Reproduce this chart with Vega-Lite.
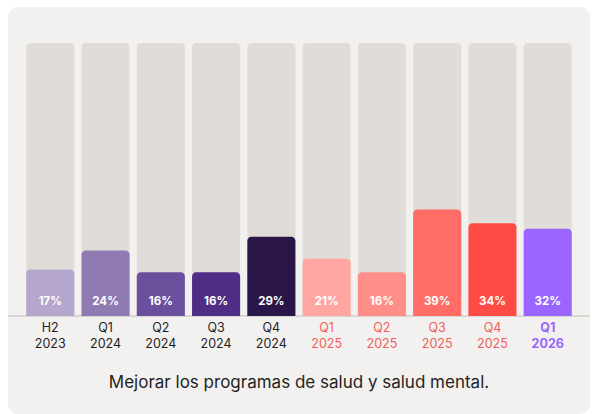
{
  "$schema": "https://vega.github.io/schema/vega-lite/v6.json",
  "width": 582,
  "height": 407,
  "autosize": {"type": "none"},
  "padding": {"left": 8, "top": 7, "right": 2, "bottom": 0},
  "background": "#ffffff",
  "config": {
    "view": {"fill": "#f2f1ef", "stroke": null, "cornerRadius": 10},
    "font": "Inter"
  },
  "data": {
    "values": [
      {"period": "H2 2023", "value": 17, "cohort": "past"},
      {"period": "Q1 2024", "value": 24, "cohort": "past"},
      {"period": "Q2 2024", "value": 16, "cohort": "past"},
      {"period": "Q3 2024", "value": 16, "cohort": "past"},
      {"period": "Q4 2024", "value": 29, "cohort": "past"},
      {"period": "Q1 2025", "value": 21, "cohort": "2025"},
      {"period": "Q2 2025", "value": 16, "cohort": "2025"},
      {"period": "Q3 2025", "value": 39, "cohort": "2025"},
      {"period": "Q4 2025", "value": 34, "cohort": "2025"},
      {"period": "Q1 2026", "value": 32, "cohort": "2026"}
    ]
  },
  "encoding": {
    "x": {
      "field": "period",
      "type": "nominal",
      "sort": null,
      "axis": null,
      "scale": {"paddingInner": 0.13, "paddingOuter": 0.33}
    }
  },
  "layer": [
    {
      "mark": {"type": "bar", "color": "#e0ddd8", "cornerRadiusTopLeft": 4, "cornerRadiusTopRight": 4},
      "encoding": {
        "y": {"datum": 100, "type": "quantitative", "scale": {"domain": [-35.9, 113.2], "nice": false, "zero": false}, "axis": null},
        "y2": {"datum": 0}
      }
    },
    {
      "mark": {"type": "rule", "color": "#d8d5d0", "strokeWidth": 1},
      "encoding": {
        "x": null,
        "y": {"datum": 0, "type": "quantitative"}
      }
    },
    {
      "mark": {"type": "bar", "cornerRadiusTopLeft": 4, "cornerRadiusTopRight": 4},
      "encoding": {
        "y": {"field": "value", "type": "quantitative"},
        "y2": {"datum": 0},
        "color": {
          "field": "period",
          "type": "nominal",
          "legend": null,
          "scale": {
            "domain": ["H2 2023", "Q1 2024", "Q2 2024", "Q3 2024", "Q4 2024", "Q1 2025", "Q2 2025", "Q3 2025", "Q4 2025", "Q1 2026"],
            "range": ["#b4a6cd", "#8f7bb1", "#6a4f9d", "#4e2d86", "#2a1549", "#ffa6a2", "#ff8e89", "#ff6d66", "#ff4b45", "#9a66ff"]
          }
        }
      }
    },
    {
      "transform": [{"calculate": "datum.value + '%'", "as": "pct"}],
      "mark": {"type": "text", "color": "#ffffff", "fontWeight": "bold", "fontSize": 11.5, "baseline": "middle"},
      "encoding": {
        "y": {"datum": 5.1, "type": "quantitative"},
        "text": {"field": "pct", "type": "nominal"}
      }
    },
    {
      "transform": [{"filter": "datum.cohort == 'past'"}],
      "mark": {"type": "text", "color": "#1f1f1f", "fontSize": 12.5, "baseline": "top", "lineBreak": " ", "lineHeight": 16},
      "encoding": {
        "y": {"datum": -2.3, "type": "quantitative"},
        "text": {"field": "period"}
      }
    },
    {
      "transform": [{"filter": "datum.cohort == '2025'"}],
      "mark": {"type": "text", "color": "#f0605b", "fontSize": 12.5, "baseline": "top", "lineBreak": " ", "lineHeight": 16},
      "encoding": {
        "y": {"datum": -2.3, "type": "quantitative"},
        "text": {"field": "period"}
      }
    },
    {
      "transform": [{"filter": "datum.cohort == '2026'"}],
      "mark": {"type": "text", "color": "#9a66ff", "fontSize": 12.5, "fontWeight": "bold", "baseline": "top", "lineBreak": " ", "lineHeight": 16},
      "encoding": {
        "y": {"datum": -2.3, "type": "quantitative"},
        "text": {"field": "period"}
      }
    },
    {
      "data": {"values": [{"caption": "Mejorar los programas de salud y salud mental."}]},
      "mark": {"type": "text", "color": "#1f1f1f", "fontSize": 17, "baseline": "middle", "align": "center"},
      "encoding": {
        "x": null,
        "y": {"datum": -24.5, "type": "quantitative"},
        "text": {"field": "caption"}
      }
    }
  ]
}
